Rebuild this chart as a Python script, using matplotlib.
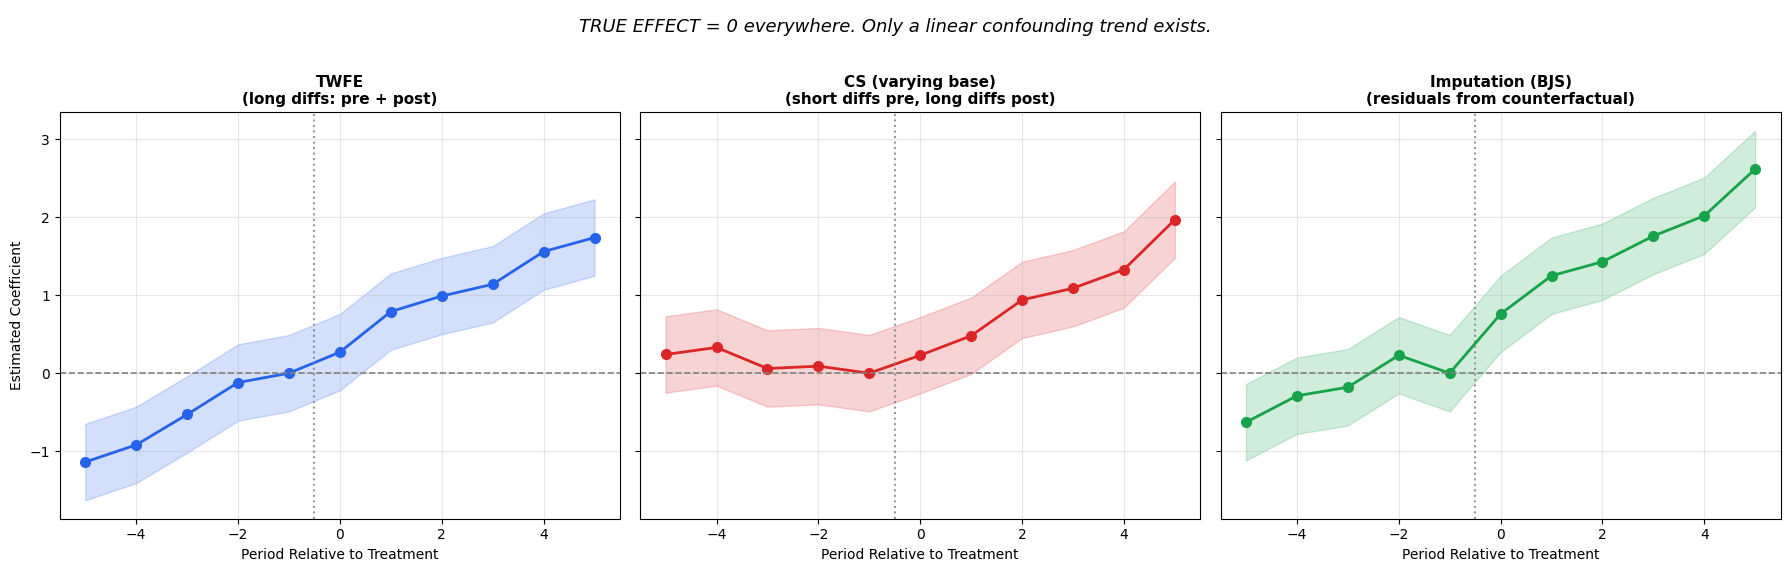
import matplotlib
matplotlib.use("Agg")
import matplotlib.pyplot as plt
import numpy as np

# event time
periods = [-5, -4, -3, -2, -1, 0, 1, 2, 3, 4, 5]

# point estimates
twfe_est = [-1.14, -0.92, -0.53, -0.12, 0.00, 0.27, 0.79, 0.99, 1.14, 1.56, 1.74]
cs_est = [0.24, 0.33, 0.06, 0.09, 0.00, 0.23, 0.48, 0.94, 1.09, 1.33, 1.97]
bjs_est = [-0.63, -0.29, -0.18, 0.23, 0.00, 0.76, 1.25, 1.43, 1.76, 2.02, 2.62]

# 95% CI half widths
twfe_ci = [0.49, 0.49, 0.49, 0.49, 0.49, 0.49, 0.49, 0.49, 0.49, 0.49, 0.49]
cs_ci = [0.49, 0.49, 0.49, 0.49, 0.49, 0.49, 0.49, 0.49, 0.49, 0.49, 0.49]
bjs_ci = [0.49, 0.49, 0.49, 0.49, 0.49, 0.49, 0.49, 0.49, 0.49, 0.49, 0.49]

titles = ["TWFE\n(long diffs: pre + post)",
          "CS (varying base)\n(short diffs pre, long diffs post)",
          "Imputation (BJS)\n(residuals from counterfactual)"]
colors = ["#2563eb", "#dc2626", "#16a34a"]

panels = [(twfe_est, twfe_ci), (cs_est, cs_ci), (bjs_est, bjs_ci)]

fig, axes = plt.subplots(1, 3, figsize=(17.9, 5.71), dpi=100, sharey=True)
fig.subplots_adjust(left=0.0334, right=0.9948, top=0.8033, bottom=0.0916, wspace=0.036)

x = np.array(periods)
for ax, (est, ci), title, col in zip(axes, panels, titles, colors):
    est = np.array(est)
    ci = np.array(ci)
    ax.fill_between(x, est - ci, est + ci, color=col, alpha=0.2)
    ax.plot(x, est, "o-", color=col, lw=2, markersize=7)
    ax.axhline(0, color="gray", ls="--", lw=1.2)
    ax.axvline(-0.5, color="gray", ls=":", lw=1.5, alpha=0.8)
    ax.set_title(title, fontsize=11, fontweight="bold")
    ax.set_xlabel("Period Relative to Treatment")
    ax.grid(True, alpha=0.3)

axes[0].set_ylabel("Estimated Coefficient")
fig.suptitle("TRUE EFFECT = 0 everywhere. Only a linear confounding trend exists.",
             fontsize=13, style="italic", y=0.968)

fig.savefig("out.png", dpi=100)
